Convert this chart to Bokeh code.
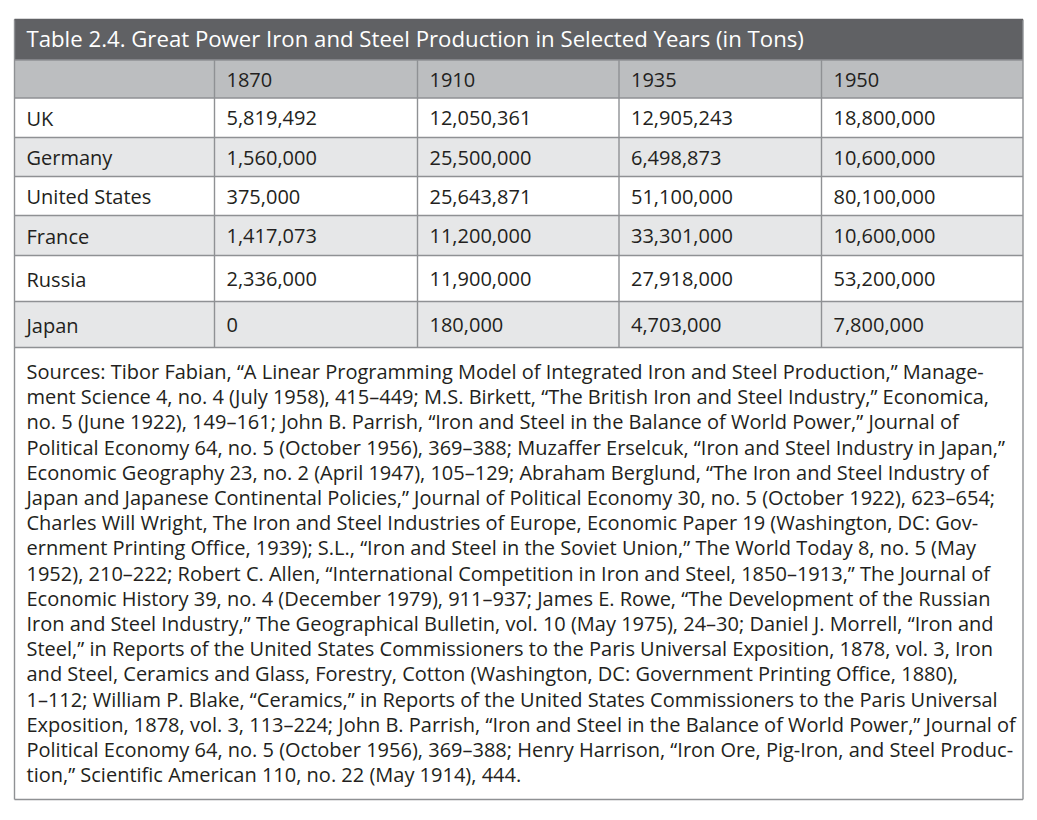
from bokeh.plotting import figure
from bokeh.models import Range1d
from bokeh.core.properties import value
from bokeh.embed import file_html
from bokeh.resources import INLINE

# ---------------- data ----------------
title = "Table 2.4. Great Power Iron and Steel Production in Selected Years (in Tons)"
years = ["1870", "1910", "1935", "1950"]
countries = ["UK", "Germany", "United States", "France", "Russia", "Japan"]
uk = [5819492, 12050361, 12905243, 18800000]
germany = [1560000, 25500000, 6498873, 10600000]
united_states = [375000, 25643871, 51100000, 80100000]
france = [1417073, 11200000, 33301000, 10600000]
russia = [2336000, 11900000, 27918000, 53200000]
japan = [0, 180000, 4703000, 7800000]
series = [uk, germany, united_states, france, russia, japan]

sources = [
    "Sources: Tibor Fabian, \u201cA Linear Programming Model of Integrated Iron and Steel Production,\u201d Manage-",
    "ment Science 4, no. 4 (July 1958), 415\u2013449; M.S. Birkett, \u201cThe British Iron and Steel Industry,\u201d Economica,",
    "no. 5 (June 1922), 149\u2013161; John B. Parrish, \u201cIron and Steel in the Balance of World Power,\u201d Journal of",
    "Political Economy 64, no. 5 (October 1956), 369\u2013388; Muzaffer Erselcuk, \u201cIron and Steel Industry in Japan,\u201d",
    "Economic Geography 23, no. 2 (April 1947), 105\u2013129; Abraham Berglund, \u201cThe Iron and Steel Industry of",
    "Japan and Japanese Continental Policies,\u201d Journal of Political Economy 30, no. 5 (October 1922), 623\u2013654;",
    "Charles Will Wright, The Iron and Steel Industries of Europe, Economic Paper 19 (Washington, DC: Gov-",
    "ernment Printing Office, 1939); S.L., \u201cIron and Steel in the Soviet Union,\u201d The World Today 8, no. 5 (May",
    "1952), 210\u2013222; Robert C. Allen, \u201cInternational Competition in Iron and Steel, 1850\u20131913,\u201d The Journal of",
    "Economic History 39, no. 4 (December 1979), 911\u2013937; James E. Rowe, \u201cThe Development of the Russian",
    "Iron and Steel Industry,\u201d The Geographical Bulletin, vol. 10 (May 1975), 24\u201330; Daniel J. Morrell, \u201cIron and",
    "Steel,\u201d in Reports of the United States Commissioners to the Paris Universal Exposition, 1878, vol. 3, Iron",
    "and Steel, Ceramics and Glass, Forestry, Cotton (Washington, DC: Government Printing Office, 1880),",
    "1\u2013112; William P. Blake, \u201cCeramics,\u201d in Reports of the United States Commissioners to the Paris Universal",
    "Exposition, 1878, vol. 3, 113\u2013224; John B. Parrish, \u201cIron and Steel in the Balance of World Power,\u201d Journal of",
    "Political Economy 64, no. 5 (October 1956), 369\u2013388; Henry Harrison, \u201cIron Ore, Pig-Iron, and Steel Produc-",
    "tion,\u201d Scientific American 110, no. 22 (May 1914), 444.",
]

# ---------------- layout (pixel coordinates of the page) ----------------
col_edges = [14, 214, 417, 618.5, 821, 1022.5]
row_edges = [19, 59.5, 97.5, 137, 176, 215, 255, 301, 347, 799]
FONT = "Open Sans"
TXT = "#231f20"
GRID = "#8f9194"
pad = 12
dy = -8  # baseline correction

W, H = 1030, 812
p = figure(width=W, height=H, x_range=Range1d(0, W), y_range=Range1d(H, 0),
           output_backend="svg", toolbar_location=None, min_border=0,
           x_axis_type=None, y_axis_type=None)
p.grid.visible = False
p.outline_line_color = None
p.background_fill_color = "white"
p.border_fill_color = "white"

L, R = col_edges[0], col_edges[-1]
# row backgrounds
fills = ["#606164", "#bcbec0", "#ffffff", "#e6e7e8", "#ffffff", "#e6e7e8", "#ffffff", "#e6e7e8", "#ffffff"]
p.quad(left=[L] * len(fills), right=[R] * len(fills), top=row_edges[:-1], bottom=row_edges[1:],
       fill_color=fills, line_color=None)

# horizontal grid lines
hy = row_edges[1:]
p.segment(x0=[L] * len(hy), x1=[R] * len(hy), y0=hy, y1=hy, line_color=GRID, line_width=1.4)
# vertical lines inside the table body
vx = col_edges[1:-1]
p.segment(x0=vx, x1=vx, y0=[row_edges[1]] * len(vx), y1=[row_edges[8]] * len(vx),
          line_color=GRID, line_width=1.4)
# outer border
p.segment(x0=[L, R], x1=[L, R], y0=[row_edges[0]] * 2, y1=[row_edges[-1]] * 2,
          line_color=GRID, line_width=1.4)
p.segment(x0=[L], x1=[R], y0=[row_edges[0]], y1=[row_edges[0]], line_color="#606164", line_width=1.4)

# title
p.text(x=[L + pad], y=[row_edges[1] - 14 + dy], text=[title], text_color="white",
       text_font=value(FONT), text_font_size="22.2px", text_baseline="alphabetic", text_align="left")

# header + body texts
xs, ys, ts = [], [], []
for j, yr in enumerate(years):
    xs.append(col_edges[j + 1] + pad)
    ys.append((row_edges[1] + row_edges[2]) / 2 + 8.5 + dy)
    ts.append(yr)
for i, (c, vals) in enumerate(zip(countries, series)):
    yc = (row_edges[i + 2] + row_edges[i + 3]) / 2 + 8.5 + dy
    xs.append(col_edges[0] + pad); ys.append(yc); ts.append(c)
    for j, v in enumerate(vals):
        xs.append(col_edges[j + 1] + pad); ys.append(yc); ts.append(f"{v:,}")
p.text(x=xs, y=ys, text=ts, text_color=TXT, text_font=value(FONT), text_font_size="20px",
       text_baseline="alphabetic", text_align="left")

# sources
sy = [379 + 25.2 * k + dy for k in range(len(sources))]
p.text(x=[L + pad] * len(sources), y=sy, text=sources, text_color=TXT, text_font=value(FONT),
       text_font_size="20px", text_baseline="alphabetic", text_align="left")

open("out.html", "w").write(file_html(p, INLINE))
